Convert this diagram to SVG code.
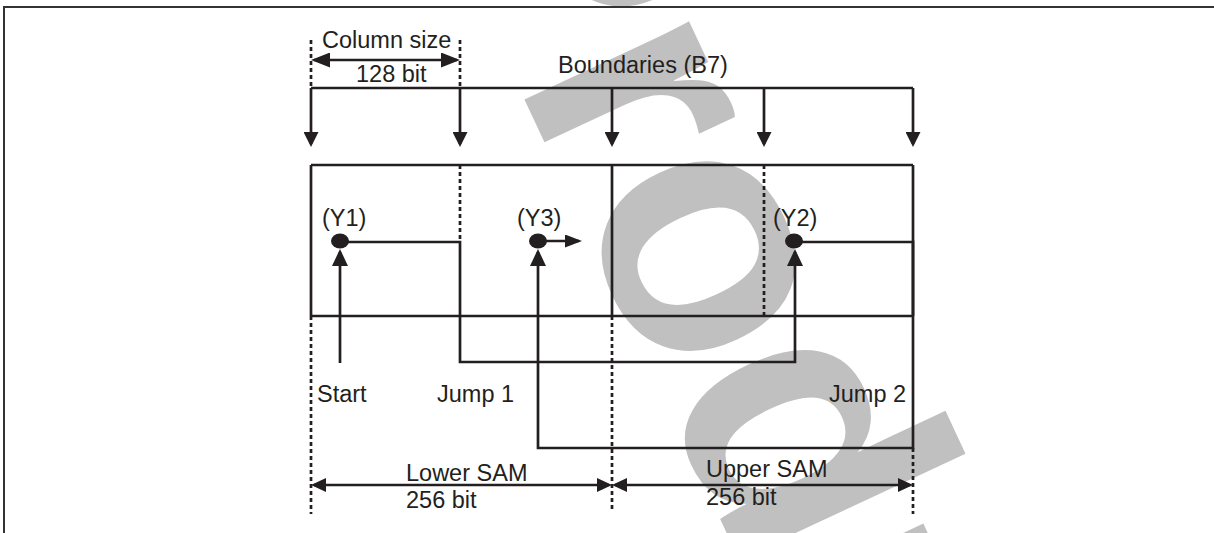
<svg xmlns="http://www.w3.org/2000/svg" width="1214" height="533" viewBox="0 0 1214 533">
<style>
.ln{fill:none;stroke:#231f20;stroke-width:2.7;stroke-linecap:butt;stroke-linejoin:miter}
.ds{fill:none;stroke:#231f20;stroke-width:2.7;stroke-dasharray:4 3}
.tx{font-family:"Liberation Sans",Arial,sans-serif;font-size:23.5px;fill:#231f20}
.wm{font-family:"Liberation Sans",Arial,sans-serif;font-size:345px;font-weight:bold;fill:#c0c0c0}
.dot{fill:#231f20}
</style>
<defs>
<marker id="ad" markerUnits="userSpaceOnUse" markerWidth="15" markerHeight="15" refX="12" refY="7.5" orient="auto"><path d="M0,0 L15,7.5 L0,15 z" fill="#231f20"/></marker>
<marker id="au" markerUnits="userSpaceOnUse" markerWidth="17" markerHeight="16" refX="14" refY="8" orient="auto"><path d="M0,0 L17,8 L0,16 z" fill="#231f20"/></marker>
<marker id="ar" markerUnits="userSpaceOnUse" markerWidth="17" markerHeight="13" refX="14" refY="6.5" orient="auto"><path d="M0,0 L17,6.5 L0,13 z" fill="#231f20"/></marker>
<marker id="ac" markerUnits="userSpaceOnUse" markerWidth="19" markerHeight="15" refX="16" refY="7.5" orient="auto-start-reverse"><path d="M0,0 L19,7.5 L0,15 z" fill="#231f20"/></marker>
<marker id="as" markerUnits="userSpaceOnUse" markerWidth="15" markerHeight="14" refX="12" refY="7" orient="auto-start-reverse"><path d="M0,0 L15,7 L0,14 z" fill="#231f20"/></marker>
</defs>
<rect width="1214" height="533" fill="#ffffff"/>
<g id="watermark"><text class="wm" transform="translate(417,-131) rotate(65)" x="0" y="0">Product</text></g>
<path d="M4,533 V7 H1214" fill="none" stroke="#333333" stroke-width="2"/>
<g id="memory-block">
<path class="ln" d="M311,165 H913 M311,316 H913 M311,165 V316 M612,165 V316 M913,165 V316"/>
<path class="ds" d="M460,165 V242 M764,165 V316"/>
</g>
<g id="guides">
<path class="ds" d="M311,40 V88 M460,40 V88 M311,316 V514 M612,316 V512 M913,448 V514"/>
</g>
<g id="connectors">
<path class="ln" d="M311,88 H913"/>
<path class="ln" d="M311,88 V144" marker-end="url(#ad)"/>
<path class="ln" d="M460,88 V144" marker-end="url(#ad)"/>
<path class="ln" d="M612,88 V144" marker-end="url(#ad)"/>
<path class="ln" d="M764,88 V144" marker-end="url(#ad)"/>
<path class="ln" d="M913,88 V144" marker-end="url(#ad)"/>
<path class="ln" d="M314,60 H457" marker-start="url(#ac)" marker-end="url(#ac)"/>
<path class="ln" d="M340,363 V252" marker-end="url(#au)"/>
<path class="ln" d="M340,242 H460 V362 H795 V252" marker-end="url(#au)"/>
<path class="ln" d="M795,242 H913 V448 H538 V252" marker-end="url(#au)"/>
<path class="ln" d="M540,241 H579" marker-end="url(#ar)"/>
<path class="ln" d="M314,485 H609" marker-start="url(#as)" marker-end="url(#as)"/>
<path class="ln" d="M615,485 H910" marker-start="url(#as)" marker-end="url(#as)"/>
</g>
<g id="node-y1"><ellipse class="dot" cx="340" cy="241" rx="9" ry="7.5"/><text class="tx" x="322" y="226">(Y1)</text></g>
<g id="node-y3"><ellipse class="dot" cx="538" cy="241" rx="9" ry="7.5"/><text class="tx" x="517" y="226">(Y3)</text></g>
<g id="node-y2"><ellipse class="dot" cx="794" cy="241" rx="9" ry="7.5"/><text class="tx" x="773" y="226">(Y2)</text></g>
<g id="labels">
<text class="tx" x="322" y="48">Column size</text>
<text class="tx" x="356" y="82">128 bit</text>
<text class="tx" x="558" y="73">Boundaries (B7)</text>
<text class="tx" x="317" y="402">Start</text>
<text class="tx" x="437" y="402">Jump 1</text>
<text class="tx" x="829" y="402">Jump 2</text>
<text class="tx" x="406" y="481">Lower SAM</text>
<text class="tx" x="406" y="508">256 bit</text>
<text class="tx" x="706" y="477">Upper SAM</text>
<text class="tx" x="706" y="505">256 bit</text>
</g>
</svg>
